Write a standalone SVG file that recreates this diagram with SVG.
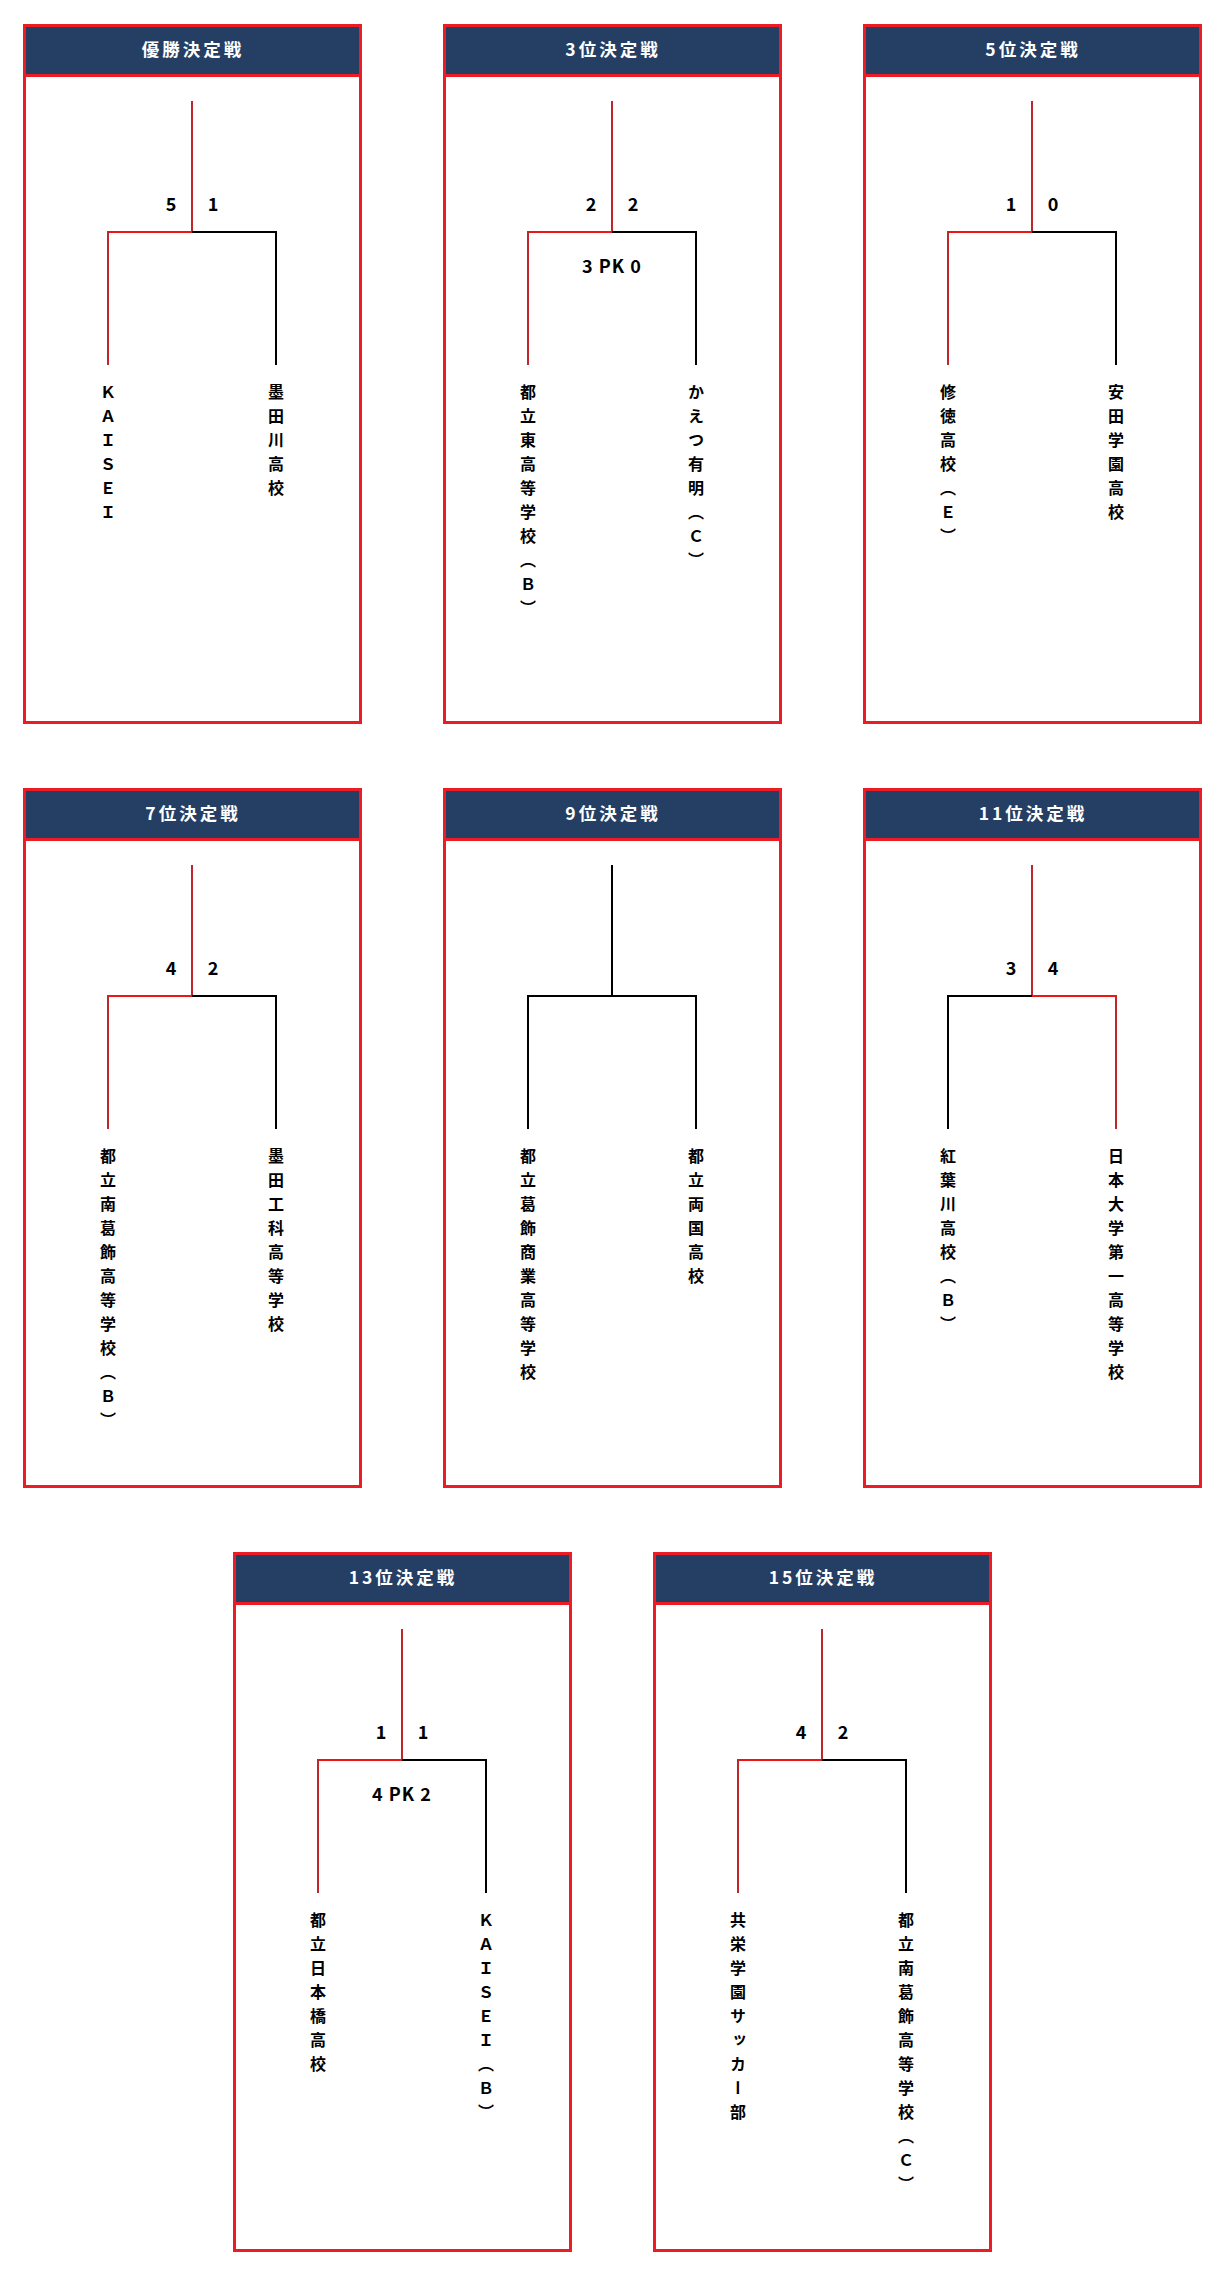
<svg xmlns="http://www.w3.org/2000/svg" width="1225" height="2277" viewBox="0 0 1225 2277">
<style>
text{font-family:"Noto Sans CJK JP","Noto Sans",sans-serif;font-weight:700}
.box{fill:#fff;stroke:#ec1c24;stroke-width:3}
.hdr{fill:#243f63}
.div{stroke:#ec1c24;stroke-width:3}
.ttl{fill:#fff;font-size:17.5px;letter-spacing:3px;text-anchor:middle;dominant-baseline:central}
.sc{fill:#000;font-size:18px;text-anchor:middle;dominant-baseline:central}
.pk{fill:#000;font-size:18px;letter-spacing:1px;text-anchor:middle;dominant-baseline:central}
.nm{fill:#000;font-size:16px;writing-mode:vertical-rl;text-orientation:upright;letter-spacing:8px}
.lv{stroke:#000;stroke-width:2;fill:none}
.lr{stroke:#c0272d;stroke-width:2;fill:none}
.hr{stroke:#ee1515;stroke-width:2;fill:none}
</style>

<g id="box1">
<rect class="box" x="24.5" y="25.5" width="336" height="697"/>
<rect class="hdr" x="26" y="27" width="333" height="47"/>
<line class="div" x1="26" y1="75.5" x2="359" y2="75.5"/>
<text class="ttl" x="193" y="48">優勝決定戦</text>
<text class="sc" x="171" y="203">5</text>
<text class="sc" x="213" y="203">1</text>
<text class="nm" x="108" y="384">ＫＡＩＳＥＩ</text>
<text class="nm" x="276" y="384">墨田川高校</text>
</g>

<g id="box2">
<rect class="box" x="444.5" y="25.5" width="336" height="697"/>
<rect class="hdr" x="446" y="27" width="333" height="47"/>
<line class="div" x1="446" y1="75.5" x2="779" y2="75.5"/>
<text class="ttl" x="613" y="48">3位決定戦</text>
<text class="sc" x="591" y="203">2</text>
<text class="sc" x="633" y="203">2</text>
<text class="pk" x="612" y="265">3 PK 0</text>
<text class="nm" x="528" y="384">都立東高等学校（Ｂ）</text>
<text class="nm" x="696" y="384">かえつ有明（Ｃ）</text>
</g>

<g id="box3">
<rect class="box" x="864.5" y="25.5" width="336" height="697"/>
<rect class="hdr" x="866" y="27" width="333" height="47"/>
<line class="div" x1="866" y1="75.5" x2="1199" y2="75.5"/>
<text class="ttl" x="1033" y="48">5位決定戦</text>
<text class="sc" x="1011" y="203">1</text>
<text class="sc" x="1053" y="203">0</text>
<text class="nm" x="948" y="384">修徳高校（Ｅ）</text>
<text class="nm" x="1116" y="384">安田学園高校</text>
</g>

<g id="box4">
<rect class="box" x="24.5" y="789.5" width="336" height="697"/>
<rect class="hdr" x="26" y="791" width="333" height="47"/>
<line class="div" x1="26" y1="839.5" x2="359" y2="839.5"/>
<text class="ttl" x="193" y="812">7位決定戦</text>
<text class="sc" x="171" y="967">4</text>
<text class="sc" x="213" y="967">2</text>
<text class="nm" x="108" y="1148">都立南葛飾高等学校（Ｂ）</text>
<text class="nm" x="276" y="1148">墨田工科高等学校</text>
</g>

<g id="box5">
<rect class="box" x="444.5" y="789.5" width="336" height="697"/>
<rect class="hdr" x="446" y="791" width="333" height="47"/>
<line class="div" x1="446" y1="839.5" x2="779" y2="839.5"/>
<text class="ttl" x="613" y="812">9位決定戦</text>
<text class="nm" x="528" y="1148">都立葛飾商業高等学校</text>
<text class="nm" x="696" y="1148">都立両国高校</text>
</g>

<g id="box6">
<rect class="box" x="864.5" y="789.5" width="336" height="697"/>
<rect class="hdr" x="866" y="791" width="333" height="47"/>
<line class="div" x1="866" y1="839.5" x2="1199" y2="839.5"/>
<text class="ttl" x="1033" y="812">11位決定戦</text>
<text class="sc" x="1011" y="967">3</text>
<text class="sc" x="1053" y="967">4</text>
<text class="nm" x="948" y="1148">紅葉川高校（Ｂ）</text>
<text class="nm" x="1116" y="1148">日本大学第一高等学校</text>
</g>

<g id="box7">
<rect class="box" x="234.5" y="1553.5" width="336" height="697"/>
<rect class="hdr" x="236" y="1555" width="333" height="47"/>
<line class="div" x1="236" y1="1603.5" x2="569" y2="1603.5"/>
<text class="ttl" x="403" y="1576">13位決定戦</text>
<text class="sc" x="381" y="1731">1</text>
<text class="sc" x="423" y="1731">1</text>
<text class="pk" x="402" y="1793">4 PK 2</text>
<text class="nm" x="318" y="1912">都立日本橋高校</text>
<text class="nm" x="486" y="1912">ＫＡＩＳＥＩ（Ｂ）</text>
</g>

<g id="box8">
<rect class="box" x="654.5" y="1553.5" width="336" height="697"/>
<rect class="hdr" x="656" y="1555" width="333" height="47"/>
<line class="div" x1="656" y1="1603.5" x2="989" y2="1603.5"/>
<text class="ttl" x="823" y="1576">15位決定戦</text>
<text class="sc" x="801" y="1731">4</text>
<text class="sc" x="843" y="1731">2</text>
<text class="nm" x="738" y="1912">共栄学園サッカー部</text>
<text class="nm" x="906" y="1912">都立南葛飾高等学校（Ｃ）</text>
</g>

<g id="connectors">
<line class="lr" x1="192" y1="101" x2="192" y2="232"/>
<line class="hr" x1="107" y1="232" x2="192" y2="232"/>
<line class="lv" x1="192" y1="232" x2="277" y2="232"/>
<line class="lr" x1="108" y1="231" x2="108" y2="365"/>
<line class="lv" x1="276" y1="231" x2="276" y2="365"/>
<line class="lr" x1="612" y1="101" x2="612" y2="232"/>
<line class="hr" x1="527" y1="232" x2="612" y2="232"/>
<line class="lv" x1="612" y1="232" x2="697" y2="232"/>
<line class="lr" x1="528" y1="231" x2="528" y2="365"/>
<line class="lv" x1="696" y1="231" x2="696" y2="365"/>
<line class="lr" x1="1032" y1="101" x2="1032" y2="232"/>
<line class="hr" x1="947" y1="232" x2="1032" y2="232"/>
<line class="lv" x1="1032" y1="232" x2="1117" y2="232"/>
<line class="lr" x1="948" y1="231" x2="948" y2="365"/>
<line class="lv" x1="1116" y1="231" x2="1116" y2="365"/>
<line class="lr" x1="192" y1="865" x2="192" y2="996"/>
<line class="hr" x1="107" y1="996" x2="192" y2="996"/>
<line class="lv" x1="192" y1="996" x2="277" y2="996"/>
<line class="lr" x1="108" y1="995" x2="108" y2="1129"/>
<line class="lv" x1="276" y1="995" x2="276" y2="1129"/>
<line class="lv" x1="612" y1="865" x2="612" y2="996"/>
<line class="lv" x1="527" y1="996" x2="697" y2="996"/>
<line class="lv" x1="528" y1="995" x2="528" y2="1129"/>
<line class="lv" x1="696" y1="995" x2="696" y2="1129"/>
<line class="lr" x1="1032" y1="865" x2="1032" y2="996"/>
<line class="lv" x1="947" y1="996" x2="1032" y2="996"/>
<line class="hr" x1="1032" y1="996" x2="1117" y2="996"/>
<line class="lv" x1="948" y1="995" x2="948" y2="1129"/>
<line class="lr" x1="1116" y1="995" x2="1116" y2="1129"/>
<line class="lr" x1="402" y1="1629" x2="402" y2="1760"/>
<line class="hr" x1="317" y1="1760" x2="402" y2="1760"/>
<line class="lv" x1="402" y1="1760" x2="487" y2="1760"/>
<line class="lr" x1="318" y1="1759" x2="318" y2="1893"/>
<line class="lv" x1="486" y1="1759" x2="486" y2="1893"/>
<line class="lr" x1="822" y1="1629" x2="822" y2="1760"/>
<line class="hr" x1="737" y1="1760" x2="822" y2="1760"/>
<line class="lv" x1="822" y1="1760" x2="907" y2="1760"/>
<line class="lr" x1="738" y1="1759" x2="738" y2="1893"/>
<line class="lv" x1="906" y1="1759" x2="906" y2="1893"/>
</g>
</svg>
